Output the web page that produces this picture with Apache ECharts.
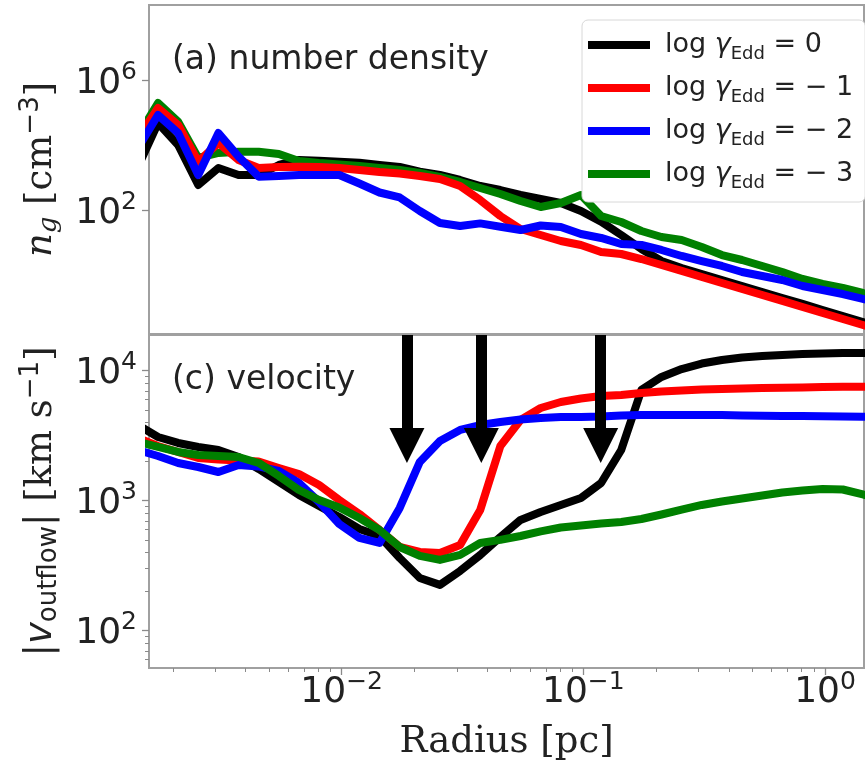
<!DOCTYPE html>
<html>
<head>
<meta charset="utf-8">
<script src="https://cdn.jsdelivr.net/npm/echarts@6/dist/echarts.min.js"></script>
<style>
  html, body { margin: 0; padding: 0; background: #ffffff; }
  #chart { width: 865px; height: 765px; }
</style>
</head>
<body>
<div id="chart"></div>
<script>
// Radial bins [pc], shared by every profile
const radiusPc = [0.001435, 0.001738, 0.002105, 0.002550, 0.003090, 0.003743, 0.004535, 0.005495,
  0.006656, 0.008065, 0.009772, 0.01184, 0.01434, 0.01738, 0.02105, 0.02550, 0.03090, 0.03743,
  0.04535, 0.05495, 0.06656, 0.08065, 0.09772, 0.1184, 0.1434, 0.1738, 0.2105, 0.2550, 0.3090,
  0.3743, 0.4535, 0.5495, 0.6656, 0.8065, 0.9772, 1.184, 1.434, 1.738];

// (a) gas number density n_g [cm^-3]
const densityEdd0 = [2213, 49900, 10500, 618, 2060, 1255, 1255, 2550, 3630, 3450, 3220, 3000, 2550,
  2210, 1585, 1255, 880, 575, 433, 304, 229, 173, 98, 45.9, 17.9, 6.63, 2.83, 1.73, 1.13, 0.737,
  0.482, 0.315, 0.206, 0.135, 0.088, 0.0575, 0.0376, 0.0246];
const densityEdd1 = [17260, 144500, 43350, 3220, 12110, 3630, 2060, 2210, 2260, 2210, 2060, 1787,
  1552, 1395, 1169, 944, 575, 213, 68.7, 27.3, 17.9, 11.7, 8.80, 5.36, 4.65, 3.26, 2.13, 1.40,
  0.912, 0.596, 0.390, 0.255, 0.167, 0.109, 0.0712, 0.0466, 0.0304, 0.0199];
const densityEdd2 = [8490, 88100, 24600, 1255, 24600, 4590, 1112, 1169, 1255, 1255, 1255, 687, 363,
  255, 98, 41.8, 33.8, 40.7, 32.2, 25.5, 35.1, 31.5, 19.2, 14.5, 9.45, 8.80, 6.18, 4.04, 2.83,
  1.99, 1.30, 0.979, 0.737, 0.482, 0.363, 0.273, 0.192, 0.135];
const densityEdd3 = [19900, 206000, 54700, 4190, 6000, 6540, 6540, 5560, 3380, 2937, 2641, 2373,
  2060, 1787, 1445, 1089, 764, 500, 326, 199, 130, 173, 304, 68.7, 44.9, 23.7, 15.5, 12.5, 7.64,
  4.33, 3.04, 1.99, 1.30, 0.791, 0.556, 0.419, 0.294, 0.192];

// (c) outflow speed |v_outflow| [km s^-1]
const velocityEdd0 = [3820, 3090, 2780, 2590, 2455, 2168, 1754, 1393, 1106, 910, 750, 606, 535, 362,
  254, 225, 288, 382, 526, 711, 819, 927, 1050, 1368, 2455, 7110, 8950, 10300, 11350, 12090,
  12640, 12970, 13210, 13440, 13560, 13680, 13680, 13800];
const velocityEdd1 = [3036, 2636, 2370, 2130, 2074, 2038, 2003, 1786, 1604, 1321, 1012, 790, 595,
  441, 403, 396, 456, 848, 2636, 4180, 5165, 5745, 6113, 6390, 6500, 6735, 6920, 7045, 7170, 7230,
  7295, 7360, 7400, 7440, 7480, 7520, 7535, 7560];
const velocityEdd2 = [2455, 2208, 1950, 1816, 1662, 1883, 1833, 1692, 1368, 977, 662, 517, 473, 879,
  1986, 2878, 3498, 3820, 4030, 4215, 4326, 4403, 4403, 4442, 4522, 4562, 4562, 4562, 4562, 4562,
  4522, 4506, 4482, 4482, 4458, 4442, 4426, 4403];
const velocityEdd3 = [2830, 2590, 2370, 2249, 2208, 2168, 1950, 1549, 1209, 1012, 887, 736, 595, 440,
  376, 350, 383, 473, 499, 535, 580, 622, 645, 668, 686, 723, 783, 855, 927, 986, 1040, 1096, 1156,
  1197, 1231, 1219, 1116, 1012];

// Eddington-ratio models
const gammaValues = ['0', '\u2212 1', '\u2212 2', '\u2212 3'];
const seriesNames = ['log \u03b3Edd = 0', 'log \u03b3Edd = -1', 'log \u03b3Edd = -2', 'log \u03b3Edd = -3'];
const seriesColors = ['#000000', '#ff0000', '#0000ff', '#008000'];
// stacking order of the profiles in each panel
const densityLayer = [2, 4, 5, 3];
const velocityLayer = [2, 3, 4, 5];

// Radii marked by arrows, and the vertical span of each arrow [km s^-1]
const arrowRadii = [0.01862, 0.03781, 0.1179];
const arrowFrom = 18800;
const arrowTo = 2660;

// Axis limits and ticks
const radiusRange = [0.001595, 1.449];
const densityRange = [0.01607, 2.134e8];
const velocityRange = [51.6, 18820];
const radiusMajor = [0.01, 0.1, 1];
const radiusMinor = [0.002, 0.003, 0.004, 0.005, 0.006, 0.007, 0.008, 0.009,
  0.02, 0.03, 0.04, 0.05, 0.06, 0.07, 0.08, 0.09,
  0.2, 0.3, 0.4, 0.5, 0.6, 0.7, 0.8, 0.9];
const densityMajor = [100, 1e6];
const velocityMajor = [100, 1000, 10000];
const velocityMinor = [60, 70, 80, 90, 200, 300, 400, 500, 600, 700, 800, 900,
  2000, 3000, 4000, 5000, 6000, 7000, 8000, 9000];

const SANS = 'DejaVu Sans';
const SERIF = 'DejaVu Serif';
const INK = '#222222';
const SPINE = '#a0a0a0';
const TICK = '#8a8a8a';

function powerLabel(v) {
  const e = Math.round(Math.log10(v));
  return '{b|10}{e|' + (e < 0 ? '\u2212' + (-e) : String(e)) + '}';
}

const powerRich = {
  b: { fontFamily: SANS, fontSize: 36, lineHeight: 36, color: INK, padding: [6, 0, 0, 0] },
  e: { fontFamily: SANS, fontSize: 25, lineHeight: 36, color: INK, padding: [0, 0, 16, 0] }
};

function majorAxis(gridIndex, range, ticks, showLabels, extra) {
  return Object.assign({
    type: 'log', gridIndex: gridIndex, min: range[0], max: range[1],
    axisLine: { show: false },
    splitLine: { show: false },
    axisTick: { show: ticks.length > 0, customValues: ticks, length: 7, lineStyle: { color: TICK, width: 1.3 } },
    axisLabel: showLabels ? {
      customValues: ticks, formatter: powerLabel, rich: powerRich, color: INK
    } : { show: false }
  }, extra || {});
}

function minorAxis(gridIndex, range, ticks, position) {
  return {
    type: 'log', gridIndex: gridIndex, position: position, min: range[0], max: range[1],
    axisLine: { show: false }, splitLine: { show: false },
    axisTick: { show: true, customValues: ticks, length: 4, lineStyle: { color: TICK, width: 1 } },
    axisLabel: { show: false }
  };
}

function profile(name, values, color, panel, z) {
  return {
    type: 'line', name: name,
    xAxisIndex: panel === 0 ? 0 : 1,
    yAxisIndex: panel === 0 ? 0 : 1,
    data: radiusPc.map(function (r, i) { return [r, values[i]]; }),
    symbol: 'none', showSymbol: false, clip: true, silent: true, z: z,
    lineStyle: { color: color, width: 8, join: 'round', cap: 'butt' },
    itemStyle: { color: color },
    emphasis: { disabled: true }
  };
}

const densitySets = [densityEdd0, densityEdd1, densityEdd2, densityEdd3];
const velocitySets = [velocityEdd0, velocityEdd1, velocityEdd2, velocityEdd3];

const series = [];
for (let k = 0; k < 4; k++) series.push(profile(seriesNames[k], densitySets[k], seriesColors[k], 0, densityLayer[k]));
for (let k = 0; k < 4; k++) series.push(profile(seriesNames[k], velocitySets[k], seriesColors[k], 1, velocityLayer[k]));

series.push({
  type: 'line', name: 'transition radii', xAxisIndex: 1, yAxisIndex: 1,
  data: [], silent: true, z: 20,
  markLine: {
    silent: true, animation: false,
    symbol: ['none', 'triangle'], symbolSize: 35,
    label: { show: false },
    emphasis: { disabled: true },
    lineStyle: { color: '#000000', width: 11, type: 'solid', opacity: 1 },
    data: arrowRadii.map(function (r) {
      return [{ coord: [r, arrowFrom] }, { coord: [r, arrowTo] }];
    })
  }
});

const chart = echarts.init(document.getElementById('chart'), null, { renderer: 'canvas' });
chart.setOption({
  animation: false,
  backgroundColor: '#ffffff',
  title: [
    { text: '(a) number density', left: 172, top: 44, padding: 0,
      textStyle: { fontFamily: SANS, fontSize: 33, fontWeight: 'normal', color: INK } },
    { text: '(c) velocity', left: 172, top: 364, padding: 0,
      textStyle: { fontFamily: SANS, fontSize: 33, fontWeight: 'normal', color: INK } }
  ],
  grid: [
    { left: 149, right: 1, top: 5, height: 329, show: true, borderColor: SPINE, borderWidth: 2, backgroundColor: 'transparent' },
    { left: 149, right: 1, top: 335, height: 333, show: true, borderColor: SPINE, borderWidth: 2, backgroundColor: 'transparent' }
  ],
  legend: {
    orient: 'vertical', left: 582, top: 20,
    padding: [7, 12, 10, 6],
    itemWidth: 62, itemHeight: 8, itemGap: 7,
    icon: 'rect',
    backgroundColor: '#ffffff', borderColor: '#d8d8d8', borderWidth: 1, borderRadius: 6,
    data: seriesNames,
    formatter: function (name) {
      const k = seriesNames.indexOf(name);
      return '{a|log }{g|\u03b3}{s|Edd}{a| = ' + gammaValues[k] + '}';
    },
    textStyle: {
      padding: [0, 0, 0, 10],
      rich: {
        a: { fontFamily: SANS, fontSize: 27, lineHeight: 35, color: INK },
        g: { fontFamily: SANS, fontStyle: 'italic', fontSize: 27, lineHeight: 35, color: INK },
        s: { fontFamily: SANS, fontSize: 18, lineHeight: 35, color: INK, padding: [18, 0, 0, 0] }
      }
    },
    selectedMode: false
  },
  xAxis: [
    majorAxis(0, radiusRange, [], false),
    majorAxis(1, radiusRange, radiusMajor, true, {
      position: 'bottom',
      name: 'Radius [pc]', nameLocation: 'middle', nameGap: 56,
      nameTextStyle: { fontFamily: SERIF, fontSize: 37, color: INK },
      axisLabel: { customValues: radiusMajor, formatter: powerLabel, rich: powerRich, color: INK, margin: 4 }
    }),
    minorAxis(1, radiusRange, radiusMinor, 'bottom')
  ],
  yAxis: [
    majorAxis(0, densityRange, densityMajor, true, {
      position: 'left',
      name: '{ni|n}{gs|g}{t| [cm}{sp|\u22123}{t|]}', nameLocation: 'middle', nameGap: 85,
      nameTextStyle: {
        rich: {
          ni: { fontFamily: SERIF, fontStyle: 'italic', fontSize: 37, lineHeight: 40, color: INK },
          gs: { fontFamily: SERIF, fontStyle: 'italic', fontSize: 26, lineHeight: 40, color: INK, padding: [16, 0, 0, 0] },
          t: { fontFamily: SERIF, fontSize: 37, lineHeight: 40, color: INK },
          sp: { fontFamily: SANS, fontSize: 26, lineHeight: 40, color: INK, padding: [0, 0, 20, 0] }
        }
      },
      axisLabel: { customValues: densityMajor, formatter: powerLabel, rich: powerRich, color: INK, margin: 12 }
    }),
    majorAxis(1, velocityRange, velocityMajor, true, {
      position: 'left',
      name: '{b||}{vi|v}{os|outflow}{b||}{t| [km s}{sp|\u22121}{t|]}', nameLocation: 'middle', nameGap: 85,
      nameTextStyle: {
        rich: {
          b: { fontFamily: SANS, fontSize: 37, lineHeight: 40, color: INK },
          vi: { fontFamily: SANS, fontStyle: 'italic', fontSize: 37, lineHeight: 40, color: INK },
          os: { fontFamily: SANS, fontSize: 26, lineHeight: 40, color: INK, padding: [16, 0, 0, 0] },
          t: { fontFamily: SERIF, fontSize: 37, lineHeight: 40, color: INK },
          sp: { fontFamily: SANS, fontSize: 26, lineHeight: 40, color: INK, padding: [0, 0, 20, 0] }
        }
      },
      axisLabel: { customValues: velocityMajor, formatter: powerLabel, rich: powerRich, color: INK, margin: 12 }
    }),
    minorAxis(1, velocityRange, velocityMinor, 'left')
  ],
  series: series
});
</script>
</body>
</html>
